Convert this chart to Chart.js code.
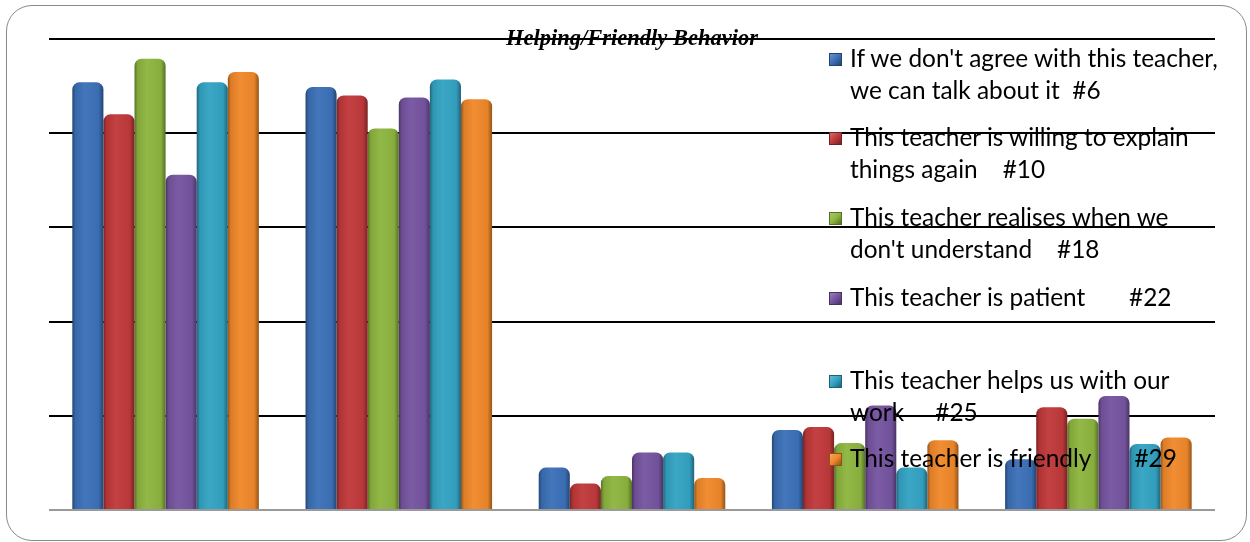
<!DOCTYPE html>
<html>
<head>
<meta charset="utf-8">
<script src="https://cdn.jsdelivr.net/npm/chart.js@4/dist/chart.umd.min.js"></script>
<style>
  html, body { margin:0; padding:0; background:#fff; }
  #wrap { position:relative; width:1250px; height:542px; overflow:hidden; }
  #frame { position:absolute; left:6px; top:5px; width:1241px; height:536px; border:1.5px solid #8a8a8a; border-radius:26px; box-sizing:border-box; }
  canvas { position:absolute; left:0; top:0; }
  #title { position:absolute; left:0; width:1264px; top:25px; text-align:center; font-family:"Liberation Serif", serif; font-style:italic; font-weight:bold; font-size:22.5px; color:#000; white-space:nowrap; }
  .leg { position:absolute; left:829px; font-family:Lato, "Open Sans", sans-serif; font-size:24.4px; line-height:32px; color:#000; }
  .leg .mk { position:absolute; left:0; top:11px; width:13px; height:13px; }
  .leg .tx { margin-left:21px; white-space:pre; }
</style>
</head>
<body>
<div id="wrap">
  <div id="frame"></div>
  <canvas id="c" width="1250" height="542"></canvas>
  <div id="title"></div>
  <div id="legend"></div>
</div>
<script>
const categories = ["1", "2", "3", "4", "5"];
const seriesNames = [
  "If we don't agree with this teacher,\nwe can talk about it  #6",
  "This teacher is willing to explain\nthings again    #10",
  "This teacher realises when we\ndon't understand    #18",
  "This teacher is patient       #22",
  "This teacher helps us with our\nwork     #25",
  "This teacher is friendly       #29"
];
const seriesColors = ["#3B70B7", "#C0393A", "#8DB53F", "#7654A0", "#33A3C3", "#F0882A"];
const s6  = [4.54, 4.49, 0.45, 0.85, 0.54];
const s10 = [4.20, 4.40, 0.28, 0.88, 1.09];
const s18 = [4.79, 4.05, 0.36, 0.71, 0.97];
const s22 = [3.56, 4.38, 0.61, 1.11, 1.21];
const s25 = [4.54, 4.57, 0.61, 0.45, 0.70];
const s29 = [4.65, 4.36, 0.34, 0.74, 0.77];
const seriesValues = [s6, s10, s18, s22, s25, s29];
const yTicks = [0, 1, 2, 3, 4, 5];
const titleText = "Helping/Friendly Behavior";
const legendTops = [42, 121, 201, 281, 364, 442];

function shade(hex, f) {
  const n = parseInt(hex.slice(1), 16);
  let r = (n >> 16) & 255, g = (n >> 8) & 255, b = n & 255;
  if (f < 1) { r *= f; g *= f; b *= f; }
  else { r = r + (255 - r) * (f - 1); g = g + (255 - g) * (f - 1); b = b + (255 - b) * (f - 1); }
  return `rgb(${Math.round(r)},${Math.round(g)},${Math.round(b)})`;
}

const CAT_PCT = 0.8;
function cylFill(ctx) {
  const chart = ctx.chart, xs = chart.scales.x, area = chart.chartArea;
  const base = seriesColors[ctx.datasetIndex];
  if (!xs || !area || ctx.dataIndex === undefined) return base;
  const catW = (area.right - area.left) / categories.length;
  const barW = catW * CAT_PCT / seriesValues.length;
  const center = xs.getPixelForValue(ctx.dataIndex);
  const left = center - barW * seriesValues.length / 2 + ctx.datasetIndex * barW;
  const g = chart.ctx.createLinearGradient(left, 0, left + barW, 0);
  g.addColorStop(0, shade(base, 0.62));
  g.addColorStop(0.1, shade(base, 0.92));
  g.addColorStop(0.4, shade(base, 1.04));
  g.addColorStop(0.85, shade(base, 0.96));
  g.addColorStop(1, shade(base, 0.62));
  return g;
}

const datasets = seriesNames.map((name, i) => ({
  label: name,
  data: seriesValues[i],
  backgroundColor: cylFill,
  borderWidth: 0,
  borderRadius: { topLeft: 7, topRight: 7, bottomLeft: 0, bottomRight: 0 },
  borderSkipped: 'bottom',
  barPercentage: 1.0,
  categoryPercentage: CAT_PCT
}));

new Chart(document.getElementById('c'), {
  type: 'bar',
  data: { labels: categories, datasets },
  options: {
    responsive: false,
    animation: false,
    devicePixelRatio: 1,
    layout: { padding: { left: 49, right: 35, top: 39, bottom: 32 } },
    plugins: { legend: { display: false }, title: { display: false }, tooltip: { enabled: false } },
    scales: {
      x: { display: false },
      y: {
        min: yTicks[0], max: yTicks[yTicks.length - 1],
        afterBuildTicks: (s) => { s.ticks = yTicks.map(v => ({ value: v })); },
        afterFit: (s) => { s.width = 0; },
        ticks: { display: false },
        border: { display: false },
        grid: {
          drawTicks: false,
          color: (c) => c.tick && c.tick.value === 0 ? '#9a9a9a' : '#000',
          lineWidth: 2
        }
      }
    }
  }
});

document.getElementById('title').textContent = titleText;
const legend = document.getElementById('legend');
seriesNames.forEach((name, i) => {
  const d = document.createElement('div');
  d.className = 'leg';
  d.style.top = legendTops[i] + 'px';
  const mk = document.createElement('div');
  mk.className = 'mk';
  mk.style.background = `linear-gradient(135deg, ${shade(seriesColors[i], 1.25)}, ${seriesColors[i]} 50%, ${shade(seriesColors[i], 0.6)})`;
  mk.style.border = '1px solid ' + shade(seriesColors[i], 0.6);
  mk.style.boxSizing = 'border-box';
  const tx = document.createElement('div');
  tx.className = 'tx';
  tx.textContent = name;
  d.appendChild(mk); d.appendChild(tx);
  legend.appendChild(d);
});
</script>
</body>
</html>
